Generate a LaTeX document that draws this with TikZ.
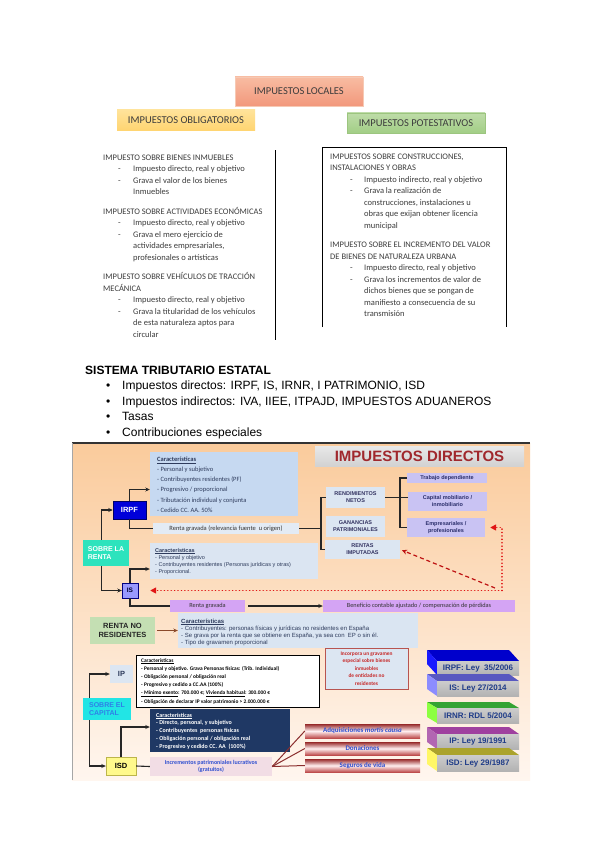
\documentclass[tikz,border=0pt]{standalone}
\usepackage{fontspec}
\setmainfont{Carlito}
\newfontfamily\arial{Liberation Sans}
\usetikzlibrary{arrows.meta,calc}
\definecolor{tgray}{HTML}{3C3C3C}
\definecolor{locT}{HTML}{F8BCA2}
\definecolor{locB}{HTML}{F2987C}
\definecolor{locD}{HTML}{F6C9B4}
\definecolor{oblT}{HTML}{FFE39A}
\definecolor{oblB}{HTML}{FFD470}
\definecolor{potT}{HTML}{BEDCA8}
\definecolor{potB}{HTML}{A2CE86}
\definecolor{potD}{HTML}{9CC57F}
\definecolor{bgT}{HTML}{FACB9C}
\definecolor{bgB}{HTML}{FFF6EF}
\definecolor{banT}{HTML}{E8E8E8}
\definecolor{banB}{HTML}{D2D2D2}
\definecolor{banR}{HTML}{A0282D}
\definecolor{lblue}{HTML}{C6D9F1}
\definecolor{pblue}{HTML}{DCE6F2}
\definecolor{navyt}{HTML}{2E3B5C}
\definecolor{lav}{HTML}{C9C3F3}
\definecolor{lavt}{HTML}{2A2E6B}
\definecolor{viol}{HTML}{D4A4F4}
\definecolor{redd}{HTML}{E01515}
\definecolor{turq}{HTML}{2DE3BD}
\definecolor{cyanb}{HTML}{22E5E5}
\definecolor{capt}{HTML}{2F7FE8}
\definecolor{rnrg}{HTML}{C4DFB3}
\definecolor{brownar}{HTML}{8B4A2B}
\definecolor{isdnavy}{HTML}{1F3864}
\definecolor{incrp}{HTML}{F2DDE5}
\definecolor{bluet}{HTML}{2F4FD0}
\definecolor{fanred}{HTML}{8B2E2E}
\definecolor{incred}{HTML}{C62828}
\definecolor{incbrd}{HTML}{B85450}
\definecolor{leyt}{HTML}{1F3C88}
\newcommand{\bx}[7]{\node[#6, minimum width={#4pt-#2pt}, minimum height={#5pt-#3pt}] (#1) at ({(#2+#4)/2},{(#3+#5)/2}) {#7};}
\newcommand{\ley}[7]{%
 \fill[#5] (427,{#2-#4}) -- (509,{#2-#4}) -- (519,#2) -- (437,#2) -- cycle;
 \fill[#6] (427,{#2-#4}) -- (437,#2) -- (437,#3) -- (427,{#3-#4}) -- cycle;
 \node[leyf, minimum height={#3pt-#2pt}] (#1) at (478,{(#2+#3)/2}) {#7};}
\begin{document}
\begin{tikzpicture}[x=1pt,y=-1pt,
  bxs/.style={inner sep=1pt, align=center},
  topt/.style={anchor=base west, inner sep=0pt, font=\fontsize{8.5}{10}\selectfont, text=tgray},
  hdr/.style={bxs, font=\fontsize{10.5}{12}\selectfont, text=tgray},
  conn/.style={draw=black!85, line width=1.1pt},
  arr/.style={conn, -{Stealth[length=4.5pt,width=4pt]}},
  reddot/.style={draw=redd, line width=1.7pt, line cap=round, dash pattern=on 0.01pt off 3.4pt, -{Triangle[length=6pt,width=6pt]}},
  reddash/.style={draw=redd!85!black, line width=1.2pt, dash pattern=on 4pt off 3pt, -{Stealth[length=5pt,width=5pt]}},
  fan/.style={draw=fanred, line width=1pt},
  ln/.style={anchor=base west, inner sep=0pt},
  irpft/.style={ln, font=\fontsize{6.5}{7}\selectfont, text=navyt},
  ist/.style={ln, font=\arial\fontsize{5.5}{6}\selectfont, text=navyt},
  irnrt/.style={ln, font=\arial\fontsize{6}{7}\selectfont, text=navyt},
  ipt/.style={ln, font=\bfseries\fontsize{5.4}{6}\selectfont, text=black},
  isdt/.style={ln, font=\bfseries\fontsize{6}{7}\selectfont, text=white},
  netb/.style={bxs, fill=pblue, font=\arial\bfseries\fontsize{5.5}{7}\selectfont, text=black!70!blue!60!gray},
  lavb/.style={bxs, fill=lav, font=\arial\bfseries\fontsize{5.5}{7}\selectfont, text=lavt},
  violb/.style={bxs, fill=viol, font=\fontsize{6.3}{7}\selectfont, text=black!80},
  redstrip/.style={bxs, top color=fanred!90!red, bottom color=fanred!70!red!80!white, middle color=red!6!white, font=\bfseries\fontsize{7}{8}\selectfont, text=bluet},
  leyf/.style={inner sep=0pt, minimum width=82pt, top color=black!20, bottom color=black!30, font=\arial\bfseries\fontsize{8}{9}\selectfont, text=leyt}
]
\useasboundingbox (0,0) rectangle (599,848);
\fill[white] (0,0) rectangle (599,848);

% ---------------- IMPUESTOS LOCALES ----------------
\bx{loc}{235}{77}{363}{106}{hdr, top color=locT, bottom color=locB, draw=locD}{IMPUESTOS LOCALES}
\bx{obl}{117}{110}{255}{131}{hdr, top color=oblT, bottom color=oblB}{IMPUESTOS OBLIGATORIOS}
\bx{pot}{347}{113}{485}{133}{hdr, top color=potT, bottom color=potB, draw=potD}{IMPUESTOS POTESTATIVOS}

\draw[line width=0.9pt] (275,150) -- (275,340);
\draw[line width=0.9pt] (322,327) -- (322,147) -- (506,147) -- (506,327);

\foreach \yy/\xx/\t [count=\i] in {
 160/103/{IMPUESTO SOBRE BIENES INMUEBLES},
 171.5/133/{Impuesto directo, real y objetivo},
 183/133/{Grava el valor de los bienes},
 194.5/133/{Inmuebles},
 214/103/{IMPUESTO SOBRE ACTIVIDADES ECONÓMICAS},
 225.5/133/{Impuesto directo, real y objetivo},
 237/133/{Grava el mero ejercicio de},
 248.5/133/{actividades empresariales,},
 260/133/{profesionales o artísticas},
 279.5/103/{IMPUESTO SOBRE VEHÍCULOS DE TRACCIÓN},
 291/103/{MECÁNICA},
 302.5/133/{Impuesto directo, real y objetivo},
 314/133/{Grava la titularidad de los vehículos},
 325.5/133/{de esta naturaleza aptos para},
 337/133/{circular}}
 \node[topt] (l\i) at (\xx,\yy) {\t};
\foreach \yy [count=\i] in {171.5,183,225.5,237,302.5,314}
 \node[topt] (ld\i) at (118,\yy) {-};

\foreach \yy/\xx/\t [count=\i] in {
 159/330/{IMPUESTOS SOBRE CONSTRUCCIONES,},
 170.5/330/{INSTALACIONES Y OBRAS},
 182/364/{Impuesto indirecto, real y objetivo},
 193.5/364/{Grava la realización de},
 205/364/{construcciones, instalaciones u},
 216.5/364/{obras que exijan obtener licencia},
 228/364/{municipal},
 247.5/330/{IMPUESTO SOBRE EL INCREMENTO DEL VALOR},
 259/330/{DE BIENES DE NATURALEZA URBANA},
 270.5/364/{Impuesto directo, real y objetivo},
 282/364/{Grava los incrementos de valor de},
 293.5/364/{dichos bienes que se pongan de},
 305/364/{manifiesto a consecuencia de su},
 316.5/364/{transmisión}}
 \node[topt] (r\i) at (\xx,\yy) {\t};
\foreach \yy [count=\i] in {182,193.5,270.5,282}
 \node[topt] (rd\i) at (350,\yy) {-};

% ---------------- SISTEMA TRIBUTARIO ----------------
\node[ln, font=\arial\bfseries\fontsize{12}{14}\selectfont] (sis) at (85,374.5) {SISTEMA TRIBUTARIO ESTATAL};
\foreach \yy/\t [count=\i] in {
 389.5/{Impuestos directos: IRPF, IS, IRNR, I PATRIMONIO, ISD},
 405/{Impuestos indirectos: IVA, IIEE, ITPAJD, IMPUESTOS ADUANEROS},
 420.5/{Tasas},
 436/{Contribuciones especiales}} {
 \node[ln, font=\arial\fontsize{12}{14}\selectfont] (bu\i) at (106,\yy) {•};
 \node[ln, font=\arial\fontsize{12}{14}\selectfont] (bt\i) at (122,\yy) {\t};
}

% ---------------- IMPUESTOS DIRECTOS ----------------
\shade[top color=bgT, bottom color=bgB] (72,443) rectangle (530,780);
\draw[black!80, line width=1.6pt] (72,443) -- (530,443);
\draw[black!35, line width=0.8pt] (72.4,443) -- (72.4,780);

\bx{ban}{315}{446}{524}{466}{bxs, top color=banT, bottom color=banB, font=\arial\bfseries\fontsize{15}{16}\selectfont, text=banR}{IMPUESTOS DIRECTOS}

% IRPF
\bx{irpfc}{150}{452}{298}{516}{bxs, fill=lblue}{}
\node[irpft, font=\bfseries\fontsize{6.5}{7}\selectfont] (irpfh) at (157,461.5) {\underline{Características}};
\foreach \t [count=\i] in {{- Personal y subjetivo},{- Contribuyentes residentes (PF)},{- Progresivo / proporcional},{- Tributación individual y conjunta},{- Cedido CC. AA. 50\%}}
 \node[irpft] (irpfl\i) at (157,{471.5+(\i-1)*10.2}) {\t};
\bx{irpf}{113}{501}{146}{519}{bxs, fill=blue!85!black, draw=blue!40!black, line width=0.5pt, font=\arial\bfseries\fontsize{7.5}{8}\selectfont, text=white}{IRPF}
\bx{rgi}{153}{523}{299}{534}{bxs, fill=pblue!80!white, font=\fontsize{6.5}{7}\selectfont, text=black!80}{Renta gravada (relevancia fuente\ \ u origen)}
\bx{srenta}{83}{540}{129}{566}{bxs, align=left, fill=turq, font=\arial\bfseries\fontsize{7}{8.5}\selectfont, text=white}{SOBRE LA\\RENTA}

\bx{rn}{326}{487}{385}{508}{netb}{RENDIMIENTOS\\NETOS}
\bx{gp}{326}{516}{385}{537}{netb}{GANANCIAS\\PATRIMONIALES}
\bx{ri}{325}{540}{400}{559}{netb}{RENTAS\\IMPUTADAS}
\bx{td}{407}{473}{487}{483}{lavb}{Trabajo dependiente}
\bx{cm}{408}{492}{487}{511}{lavb}{Capital mobiliario /\\inmobiliario}
\bx{ep}{407}{518}{485}{537}{lavb}{Empresariales /\\profesionales}

\draw[arr] ($(srenta.north)+(-4.5,0)$) |- (irpf.west);
\draw[arr] (irpf.north) |- ($(irpfc.west)+(0,5.5)$);
\draw[conn] (irpf.south) |- (rgi.west);
\coordinate (bA) at (321,528.5);
\draw[conn] (rgi.east) -- (bA);
\draw[conn] (rn.west) -| (bA) |- (ri.west);
\coordinate (bB) at (400,497.5);
\draw[conn] (rn.east) -- (bB);
\draw[conn] (td.west) -| (bB) |- (ep.west);
\draw[conn] (bB) -- (cm.west |- bB);

% IS
\bx{isc}{150}{543}{318}{579}{bxs, fill=pblue!95!lblue}{}
\node[ist, font=\arial\bfseries\fontsize{5.5}{6}\selectfont] (ish) at (155,552) {\underline{Características}};
\foreach \t [count=\i] in {{- Personal y objetivo},{- Contribuyentes residentes (Personas jurídicas y otras)},{- Proporcional.}}
 \node[ist] (isl\i) at (155,{559.3+(\i-1)*7.3}) {\t};
\bx{is}{122}{583}{138}{598}{bxs, fill=blue!40!white, draw=blue!50!black, line width=0.4pt, font=\arial\bfseries\fontsize{6.5}{7}\selectfont, text=blue!20!black}{IS}
\bx{rgs}{170}{600}{245}{612}{violb}{Renta gravada}
\bx{ben}{323}{600}{515}{612}{violb}{Beneficio contable ajustado / compensación de pérdidas}

\draw[arr] ($(srenta.south)+(-4.5,0)$) |- (is.west);
\draw[arr] (is.north) |- ($(isc.west)+(0,8)$);
\draw[conn] (is.south) |- (rgs.west);
\draw[arr, shorten <=3pt] (rgs.east) -- (ben.west);

\coordinate (rA) at (502,527.5);
\coordinate (rB) at (502,590.5);
\coordinate (rD) at (495,588);
\draw[reddot, shorten >=5pt] (rB) -- (rA) -- (ep.east);
\draw[reddot, shorten >=12pt] (rB) -- (is.east);
\draw[reddash, shorten >=2pt] (rD) -- (ri.east);

% IRNR
\bx{rnr}{90}{617}{155}{644}{bxs, fill=rnrg, font=\arial\bfseries\fontsize{7.5}{9}\selectfont, text=black!85}{RENTA NO\\RESIDENTES}
\bx{irnrc}{178}{613}{418}{648}{bxs, fill=pblue!90!lblue}{}
\node[irnrt, font=\arial\bfseries\fontsize{6}{7}\selectfont] (irnrh) at (181,623) {\underline{Características}};
\foreach \t [count=\i] in {{- Contribuyentes: personas físicas y jurídicas no residentes en España},{- Se grava por la renta que se obtiene en España, ya sea con\ \ EP o sin él.},{- Tipo de gravamen proporcional}}
 \node[irnrt] (irnrl\i) at (181,{630.3+(\i-1)*7.3}) {\t};
\draw[draw=brownar, line width=1.2pt, -{Stealth[length=4.5pt,width=4pt]}, shorten <=2pt] (rnr.east) -- (irnrc.west);

% IP
\bx{ipc}{136}{655}{319}{707}{bxs, fill=white, draw=black, line width=1pt}{}
\node[ipt] (iph) at (141,662) {\underline{Características}};
\foreach \t [count=\i] in {{- Personal y objetivo. Grava Personas físicas: (Trib. Individual)},{- Obligación personal / obligación real},{- Progresivo y cedido a CC.AA (100\%)},{\underline{- Mínimo exento}: 700.000 €; \underline{Vivienda habitual}: 300.000 €},{- Obligación de declarar IP valor patrimonio > 2.000.000 €}}
 \node[ipt] (ipl\i) at (141,{670+(\i-1)*8.3}) {\t};
\bx{inc}{325}{648}{408}{689}{bxs, fill=pblue, draw=incbrd, line width=0.9pt, font=\bfseries\fontsize{5.4}{7.5}\selectfont, text=incred}{Incorpora un gravamen\\especial sobre bienes\\inmuebles\\de entidades no\\residentes}
\bx{ip}{110}{665}{133}{683}{bxs, fill=pblue, font=\arial\bfseries\fontsize{7.5}{8}\selectfont, text=navyt}{IP}
\bx{scap}{83}{698}{131}{720}{bxs, align=left, fill=cyanb, font=\arial\bfseries\fontsize{7}{8.5}\selectfont, text=capt}{SOBRE EL\\CAPITAL}
\bx{isd}{106}{757}{136}{775}{bxs, fill=yellow!45!white, draw=olive!60, line width=0.4pt, font=\arial\bfseries\fontsize{7.5}{8}\selectfont, text=black}{ISD}
\bx{isdc}{150}{709}{290}{752}{bxs, fill=isdnavy}{}
\node[isdt] (isdh) at (156,717) {\underline{Características}};
\foreach \t [count=\i] in {{- Directo, personal, y subjetivo},{- Contribuyentes\ \ personas físicas},{- Obligación personal / obligación real},{- Progresivo y cedido CC. AA\ \ (100\%)}}
 \node[isdt] (isdl\i) at (156,{724.8+(\i-1)*7.8}) {\t};
\bx{incr}{150}{757}{272}{776}{bxs, fill=incrp, font=\bfseries\fontsize{6}{7.5}\selectfont, text=bluet}{Incrementos patrimoniales lucrativos\\(gratuitos)}
\bx{adq}{305}{724}{420}{738}{redstrip}{Adquisiciones \textit{mortis causa}}
\bx{don}{305}{742}{420}{755}{redstrip}{Donaciones}
\bx{seg}{305}{759}{420}{772}{redstrip}{Seguros de vida}

\draw[arr] ($(scap.north west)+(7,0)$) |- (ip.west);
\draw[arr] ($(scap.south west)+(7,0)$) |- (isd.west);
\draw[arr] (isd.north) |- ($(isdc.west)+(0,-3.5)$);
\draw[conn] (isd.east) -- (incr.west);
\draw[fan] (incr.east) -- (adq.west);
\draw[fan] (incr.east) -- (don.west);
\draw[fan] (incr.east) -- (seg.west);

% Leyes
\ley{lirpf}{661}{675}{11}{blue!80!black}{blue!90!white}{IRPF: Ley~~35/2006}
\ley{lis}{681}{696}{7}{blue!45!gray!90!white}{blue!45!white}{IS: Ley 27/2014}
\ley{lirnr}{708}{723}{6}{green!55!black!80!white}{green!60!yellow!75!white}{IRNR: RDL 5/2004}
\ley{lip}{734}{749}{7}{violet!75!white}{violet!60!white}{IP: Ley 19/1991}
\ley{lisd}{755}{771}{7}{olive!75!white}{yellow!60!white}{ISD: Ley 29/1987}
\end{tikzpicture}
\end{document}
